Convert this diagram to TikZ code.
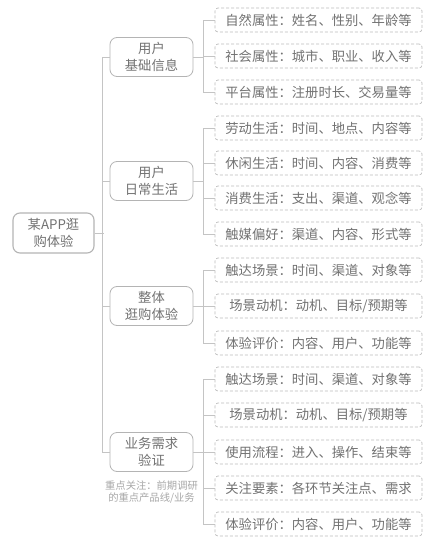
\documentclass[tikz,border=0pt]{standalone}
\usepackage{fontspec}
\setmainfont{Noto Sans CJK SC}
\definecolor{txt}{HTML}{727272}
\definecolor{notetxt}{HTML}{A8A8A8}
\definecolor{boxgray}{HTML}{B4B4B4}
\definecolor{leafgray}{HTML}{BDBDBD}
\definecolor{linegray}{HTML}{C4C4C4}
\tikzset{
  rootbox/.style={draw=boxgray, line width=1.1pt, rounded corners=7pt, minimum width=81pt, minimum height=40pt, align=center, text=txt, inner sep=0pt, font=\fontsize{13.3}{16.5}\selectfont},
  midbox/.style={draw=boxgray, line width=0.8pt, rounded corners=7pt, minimum width=83pt, minimum height=39pt, align=center, text=txt, inner sep=0pt, font=\fontsize{13.3}{16.5}\selectfont},
  leafbox/.style={draw=leafgray, line width=0.7pt, dash pattern=on 3pt off 2pt, rounded corners=3pt, minimum width=207pt, minimum height=24pt, align=center, text=txt, inner sep=0pt, font=\fontsize{13.3}{15}\selectfont},
  notetext/.style={align=center, text=notetxt, inner sep=0pt, font=\fontsize{10.3}{12.5}\selectfont},
  link/.style={draw=linegray, line width=0.8pt}
}
\begin{document}
\begin{tikzpicture}[x=1pt, y=-1pt]
\useasboundingbox (0,0) rectangle (437,546);
\fill[white] (0,0) rectangle (437,546);
% root and middle nodes
\node[rootbox] (root) at (53.5,233) {某APP逛\\购体验};
\node[midbox] (m1) at (151.5,57) {用户\\基础信息};
\node[midbox] (m2) at (151.5,181) {用户\\日常生活};
\node[midbox] (m3) at (151.5,306) {整体\\逛购体验};
\node[midbox] (m4) at (151.5,452) {业务需求\\验证};
\node[notetext] (note) at (151.5,492) {重点关注：前期调研\\的重点产品线/业务};
% leaves
\node[leafbox] (l1) at (318.5,20) {自然属性：姓名、性别、年龄等};
\node[leafbox] (l2) at (318.5,56) {社会属性：城市、职业、收入等};
\node[leafbox] (l3) at (318.5,92) {平台属性：注册时长、交易量等};
\node[leafbox] (l4) at (318.5,128) {劳动生活：时间、地点、内容等};
\node[leafbox] (l5) at (318.5,163) {休闲生活：时间、内容、消费等};
\node[leafbox] (l6) at (318.5,198) {消费生活：支出、渠道、观念等};
\node[leafbox] (l7) at (318.5,234) {触媒偏好：渠道、内容、形式等};
\node[leafbox] (l8) at (318.5,270) {触达场景：时间、渠道、对象等};
\node[leafbox] (l9) at (318.5,306) {场景动机：动机、目标/预期等};
\node[leafbox] (l10) at (318.5,343) {体验评价：内容、用户、功能等};
\node[leafbox] (l11) at (318.5,379) {触达场景：时间、渠道、对象等};
\node[leafbox] (l12) at (318.5,415) {场景动机：动机、目标/预期等};
\node[leafbox] (l13) at (318.5,452) {使用流程：进入、操作、结束等};
\node[leafbox] (l14) at (318.5,488) {关注要素：各环节关注点、需求};
\node[leafbox] (l15) at (318.5,524) {体验评价：内容、用户、功能等};
% trunk
\draw[link] (root.east) -- ++(9.5,0);
\draw[link] (m1.west) -- ++(-7,0) |- (m4.west);
\draw[link] (m2.west) -- ++(-7,0);
\draw[link] (m3.west) -- ++(-7,0);
% group 1
\draw[link] (m1.east) -- ++(11,0);
\draw[link] (l1.west) -- ++(-11,0) |- (l3.west);
\draw[link] (l2.west) -- ++(-11,0);
% group 2
\draw[link] (m2.east) -- ++(11,0);
\draw[link] (l4.west) -- ++(-11,0) |- (l7.west);
\draw[link] (l5.west) -- ++(-11,0);
\draw[link] (l6.west) -- ++(-11,0);
% group 3
\draw[link] (m3.east) -- ++(11,0);
\draw[link] (l8.west) -- ++(-11,0) |- (l10.west);
\draw[link] (l9.west) -- ++(-11,0);
% group 4
\draw[link] (m4.east) -- ++(11,0);
\draw[link] (l11.west) -- ++(-11,0) |- (l15.west);
\draw[link] (l12.west) -- ++(-11,0);
\draw[link] (l13.west) -- ++(-11,0);
\draw[link] (l14.west) -- ++(-11,0);
\end{tikzpicture}
\end{document}
